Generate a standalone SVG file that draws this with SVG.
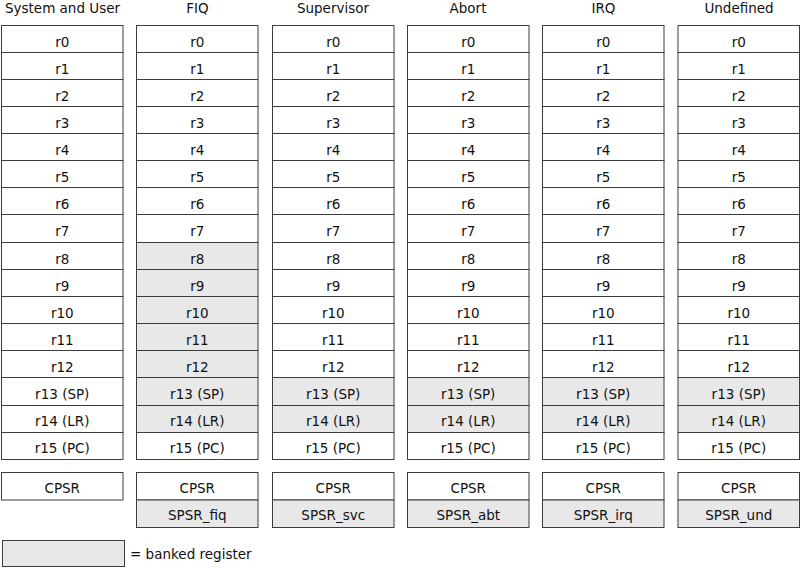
<svg xmlns="http://www.w3.org/2000/svg" width="801" height="568" viewBox="0 0 801 568">
<style>
.c{fill:#ffffff;stroke:#3c3c3c;stroke-width:1}
.b{fill:#e8e8e8;stroke:#3c3c3c;stroke-width:1}
text{font-family:"DejaVu Sans","Liberation Sans",Arial,sans-serif;font-size:13.5px;fill:#111;text-anchor:middle}
.l{text-anchor:start}
</style>
<rect width="801" height="568" fill="#ffffff"/>
<g id="headers">
<text x="62.5" y="13">System and User</text>
<text x="197.5" y="13">FIQ</text>
<text x="333" y="13">Supervisor</text>
<text x="468" y="13">Abort</text>
<text x="603.5" y="13">IRQ</text>
<text x="739" y="13">Undefined</text>
</g>
<g id="col-usr">
<g id="usr-r0"><rect class="c" x="1.5" y="25.5" width="121.5" height="27"/><text x="62.25" y="46.5">r0</text></g>
<g id="usr-r1"><rect class="c" x="1.5" y="52.5" width="121.5" height="27"/><text x="62.25" y="73.5">r1</text></g>
<g id="usr-r2"><rect class="c" x="1.5" y="79.5" width="121.5" height="27"/><text x="62.25" y="100.5">r2</text></g>
<g id="usr-r3"><rect class="c" x="1.5" y="106.5" width="121.5" height="27"/><text x="62.25" y="127.5">r3</text></g>
<g id="usr-r4"><rect class="c" x="1.5" y="133.5" width="121.5" height="27"/><text x="62.25" y="154.5">r4</text></g>
<g id="usr-r5"><rect class="c" x="1.5" y="160.5" width="121.5" height="27"/><text x="62.25" y="181.5">r5</text></g>
<g id="usr-r6"><rect class="c" x="1.5" y="187.5" width="121.5" height="27"/><text x="62.25" y="208.5">r6</text></g>
<g id="usr-r7"><rect class="c" x="1.5" y="214.5" width="121.5" height="28"/><text x="62.25" y="236">r7</text></g>
<g id="usr-r8"><rect class="c" x="1.5" y="242.5" width="121.5" height="27"/><text x="62.25" y="263.5">r8</text></g>
<g id="usr-r9"><rect class="c" x="1.5" y="269.5" width="121.5" height="27"/><text x="62.25" y="290.5">r9</text></g>
<g id="usr-r10"><rect class="c" x="1.5" y="296.5" width="121.5" height="27"/><text x="62.25" y="317.5">r10</text></g>
<g id="usr-r11"><rect class="c" x="1.5" y="323.5" width="121.5" height="27"/><text x="62.25" y="344.5">r11</text></g>
<g id="usr-r12"><rect class="c" x="1.5" y="350.5" width="121.5" height="27"/><text x="62.25" y="371.5">r12</text></g>
<g id="usr-r13"><rect class="c" x="1.5" y="377.5" width="121.5" height="28"/><text x="62.25" y="398.5">r13 (SP)</text></g>
<g id="usr-r14"><rect class="c" x="1.5" y="405.5" width="121.5" height="27"/><text x="62.25" y="426">r14 (LR)</text></g>
<g id="usr-r15"><rect class="c" x="1.5" y="432.5" width="121.5" height="27"/><text x="62.25" y="453">r15 (PC)</text></g>
<g id="usr-cpsr"><rect class="c" x="1.5" y="472.5" width="121.5" height="27.5"/><text x="62.25" y="492.5">CPSR</text></g>
</g>
<g id="col-fiq">
<g id="fiq-r0"><rect class="c" x="136.5" y="25.5" width="121.5" height="27"/><text x="197.25" y="46.5">r0</text></g>
<g id="fiq-r1"><rect class="c" x="136.5" y="52.5" width="121.5" height="27"/><text x="197.25" y="73.5">r1</text></g>
<g id="fiq-r2"><rect class="c" x="136.5" y="79.5" width="121.5" height="27"/><text x="197.25" y="100.5">r2</text></g>
<g id="fiq-r3"><rect class="c" x="136.5" y="106.5" width="121.5" height="27"/><text x="197.25" y="127.5">r3</text></g>
<g id="fiq-r4"><rect class="c" x="136.5" y="133.5" width="121.5" height="27"/><text x="197.25" y="154.5">r4</text></g>
<g id="fiq-r5"><rect class="c" x="136.5" y="160.5" width="121.5" height="27"/><text x="197.25" y="181.5">r5</text></g>
<g id="fiq-r6"><rect class="c" x="136.5" y="187.5" width="121.5" height="27"/><text x="197.25" y="208.5">r6</text></g>
<g id="fiq-r7"><rect class="c" x="136.5" y="214.5" width="121.5" height="28"/><text x="197.25" y="236">r7</text></g>
<g id="fiq-r8"><rect class="b" x="136.5" y="242.5" width="121.5" height="27"/><text x="197.25" y="263.5">r8</text></g>
<g id="fiq-r9"><rect class="b" x="136.5" y="269.5" width="121.5" height="27"/><text x="197.25" y="290.5">r9</text></g>
<g id="fiq-r10"><rect class="b" x="136.5" y="296.5" width="121.5" height="27"/><text x="197.25" y="317.5">r10</text></g>
<g id="fiq-r11"><rect class="b" x="136.5" y="323.5" width="121.5" height="27"/><text x="197.25" y="344.5">r11</text></g>
<g id="fiq-r12"><rect class="b" x="136.5" y="350.5" width="121.5" height="27"/><text x="197.25" y="371.5">r12</text></g>
<g id="fiq-r13"><rect class="b" x="136.5" y="377.5" width="121.5" height="28"/><text x="197.25" y="398.5">r13 (SP)</text></g>
<g id="fiq-r14"><rect class="b" x="136.5" y="405.5" width="121.5" height="27"/><text x="197.25" y="426">r14 (LR)</text></g>
<g id="fiq-r15"><rect class="c" x="136.5" y="432.5" width="121.5" height="27"/><text x="197.25" y="453">r15 (PC)</text></g>
<g id="fiq-cpsr"><rect class="c" x="136.5" y="472.5" width="121.5" height="27.5"/><text x="197.25" y="492.5">CPSR</text></g>
<g id="fiq-spsr"><rect class="b" x="136.5" y="500" width="121.5" height="27.5"/><text x="197.25" y="520">SPSR_fiq</text></g>
</g>
<g id="col-svc">
<g id="svc-r0"><rect class="c" x="272.5" y="25.5" width="121.5" height="27"/><text x="333.25" y="46.5">r0</text></g>
<g id="svc-r1"><rect class="c" x="272.5" y="52.5" width="121.5" height="27"/><text x="333.25" y="73.5">r1</text></g>
<g id="svc-r2"><rect class="c" x="272.5" y="79.5" width="121.5" height="27"/><text x="333.25" y="100.5">r2</text></g>
<g id="svc-r3"><rect class="c" x="272.5" y="106.5" width="121.5" height="27"/><text x="333.25" y="127.5">r3</text></g>
<g id="svc-r4"><rect class="c" x="272.5" y="133.5" width="121.5" height="27"/><text x="333.25" y="154.5">r4</text></g>
<g id="svc-r5"><rect class="c" x="272.5" y="160.5" width="121.5" height="27"/><text x="333.25" y="181.5">r5</text></g>
<g id="svc-r6"><rect class="c" x="272.5" y="187.5" width="121.5" height="27"/><text x="333.25" y="208.5">r6</text></g>
<g id="svc-r7"><rect class="c" x="272.5" y="214.5" width="121.5" height="28"/><text x="333.25" y="236">r7</text></g>
<g id="svc-r8"><rect class="c" x="272.5" y="242.5" width="121.5" height="27"/><text x="333.25" y="263.5">r8</text></g>
<g id="svc-r9"><rect class="c" x="272.5" y="269.5" width="121.5" height="27"/><text x="333.25" y="290.5">r9</text></g>
<g id="svc-r10"><rect class="c" x="272.5" y="296.5" width="121.5" height="27"/><text x="333.25" y="317.5">r10</text></g>
<g id="svc-r11"><rect class="c" x="272.5" y="323.5" width="121.5" height="27"/><text x="333.25" y="344.5">r11</text></g>
<g id="svc-r12"><rect class="c" x="272.5" y="350.5" width="121.5" height="27"/><text x="333.25" y="371.5">r12</text></g>
<g id="svc-r13"><rect class="b" x="272.5" y="377.5" width="121.5" height="28"/><text x="333.25" y="398.5">r13 (SP)</text></g>
<g id="svc-r14"><rect class="b" x="272.5" y="405.5" width="121.5" height="27"/><text x="333.25" y="426">r14 (LR)</text></g>
<g id="svc-r15"><rect class="c" x="272.5" y="432.5" width="121.5" height="27"/><text x="333.25" y="453">r15 (PC)</text></g>
<g id="svc-cpsr"><rect class="c" x="272.5" y="472.5" width="121.5" height="27.5"/><text x="333.25" y="492.5">CPSR</text></g>
<g id="svc-spsr"><rect class="b" x="272.5" y="500" width="121.5" height="27.5"/><text x="333.25" y="520">SPSR_svc</text></g>
</g>
<g id="col-abt">
<g id="abt-r0"><rect class="c" x="407.5" y="25.5" width="121.5" height="27"/><text x="468.25" y="46.5">r0</text></g>
<g id="abt-r1"><rect class="c" x="407.5" y="52.5" width="121.5" height="27"/><text x="468.25" y="73.5">r1</text></g>
<g id="abt-r2"><rect class="c" x="407.5" y="79.5" width="121.5" height="27"/><text x="468.25" y="100.5">r2</text></g>
<g id="abt-r3"><rect class="c" x="407.5" y="106.5" width="121.5" height="27"/><text x="468.25" y="127.5">r3</text></g>
<g id="abt-r4"><rect class="c" x="407.5" y="133.5" width="121.5" height="27"/><text x="468.25" y="154.5">r4</text></g>
<g id="abt-r5"><rect class="c" x="407.5" y="160.5" width="121.5" height="27"/><text x="468.25" y="181.5">r5</text></g>
<g id="abt-r6"><rect class="c" x="407.5" y="187.5" width="121.5" height="27"/><text x="468.25" y="208.5">r6</text></g>
<g id="abt-r7"><rect class="c" x="407.5" y="214.5" width="121.5" height="28"/><text x="468.25" y="236">r7</text></g>
<g id="abt-r8"><rect class="c" x="407.5" y="242.5" width="121.5" height="27"/><text x="468.25" y="263.5">r8</text></g>
<g id="abt-r9"><rect class="c" x="407.5" y="269.5" width="121.5" height="27"/><text x="468.25" y="290.5">r9</text></g>
<g id="abt-r10"><rect class="c" x="407.5" y="296.5" width="121.5" height="27"/><text x="468.25" y="317.5">r10</text></g>
<g id="abt-r11"><rect class="c" x="407.5" y="323.5" width="121.5" height="27"/><text x="468.25" y="344.5">r11</text></g>
<g id="abt-r12"><rect class="c" x="407.5" y="350.5" width="121.5" height="27"/><text x="468.25" y="371.5">r12</text></g>
<g id="abt-r13"><rect class="b" x="407.5" y="377.5" width="121.5" height="28"/><text x="468.25" y="398.5">r13 (SP)</text></g>
<g id="abt-r14"><rect class="b" x="407.5" y="405.5" width="121.5" height="27"/><text x="468.25" y="426">r14 (LR)</text></g>
<g id="abt-r15"><rect class="c" x="407.5" y="432.5" width="121.5" height="27"/><text x="468.25" y="453">r15 (PC)</text></g>
<g id="abt-cpsr"><rect class="c" x="407.5" y="472.5" width="121.5" height="27.5"/><text x="468.25" y="492.5">CPSR</text></g>
<g id="abt-spsr"><rect class="b" x="407.5" y="500" width="121.5" height="27.5"/><text x="468.25" y="520">SPSR_abt</text></g>
</g>
<g id="col-irq">
<g id="irq-r0"><rect class="c" x="542.5" y="25.5" width="121.5" height="27"/><text x="603.25" y="46.5">r0</text></g>
<g id="irq-r1"><rect class="c" x="542.5" y="52.5" width="121.5" height="27"/><text x="603.25" y="73.5">r1</text></g>
<g id="irq-r2"><rect class="c" x="542.5" y="79.5" width="121.5" height="27"/><text x="603.25" y="100.5">r2</text></g>
<g id="irq-r3"><rect class="c" x="542.5" y="106.5" width="121.5" height="27"/><text x="603.25" y="127.5">r3</text></g>
<g id="irq-r4"><rect class="c" x="542.5" y="133.5" width="121.5" height="27"/><text x="603.25" y="154.5">r4</text></g>
<g id="irq-r5"><rect class="c" x="542.5" y="160.5" width="121.5" height="27"/><text x="603.25" y="181.5">r5</text></g>
<g id="irq-r6"><rect class="c" x="542.5" y="187.5" width="121.5" height="27"/><text x="603.25" y="208.5">r6</text></g>
<g id="irq-r7"><rect class="c" x="542.5" y="214.5" width="121.5" height="28"/><text x="603.25" y="236">r7</text></g>
<g id="irq-r8"><rect class="c" x="542.5" y="242.5" width="121.5" height="27"/><text x="603.25" y="263.5">r8</text></g>
<g id="irq-r9"><rect class="c" x="542.5" y="269.5" width="121.5" height="27"/><text x="603.25" y="290.5">r9</text></g>
<g id="irq-r10"><rect class="c" x="542.5" y="296.5" width="121.5" height="27"/><text x="603.25" y="317.5">r10</text></g>
<g id="irq-r11"><rect class="c" x="542.5" y="323.5" width="121.5" height="27"/><text x="603.25" y="344.5">r11</text></g>
<g id="irq-r12"><rect class="c" x="542.5" y="350.5" width="121.5" height="27"/><text x="603.25" y="371.5">r12</text></g>
<g id="irq-r13"><rect class="b" x="542.5" y="377.5" width="121.5" height="28"/><text x="603.25" y="398.5">r13 (SP)</text></g>
<g id="irq-r14"><rect class="b" x="542.5" y="405.5" width="121.5" height="27"/><text x="603.25" y="426">r14 (LR)</text></g>
<g id="irq-r15"><rect class="c" x="542.5" y="432.5" width="121.5" height="27"/><text x="603.25" y="453">r15 (PC)</text></g>
<g id="irq-cpsr"><rect class="c" x="542.5" y="472.5" width="121.5" height="27.5"/><text x="603.25" y="492.5">CPSR</text></g>
<g id="irq-spsr"><rect class="b" x="542.5" y="500" width="121.5" height="27.5"/><text x="603.25" y="520">SPSR_irq</text></g>
</g>
<g id="col-und">
<g id="und-r0"><rect class="c" x="678" y="25.5" width="121.5" height="27"/><text x="738.75" y="46.5">r0</text></g>
<g id="und-r1"><rect class="c" x="678" y="52.5" width="121.5" height="27"/><text x="738.75" y="73.5">r1</text></g>
<g id="und-r2"><rect class="c" x="678" y="79.5" width="121.5" height="27"/><text x="738.75" y="100.5">r2</text></g>
<g id="und-r3"><rect class="c" x="678" y="106.5" width="121.5" height="27"/><text x="738.75" y="127.5">r3</text></g>
<g id="und-r4"><rect class="c" x="678" y="133.5" width="121.5" height="27"/><text x="738.75" y="154.5">r4</text></g>
<g id="und-r5"><rect class="c" x="678" y="160.5" width="121.5" height="27"/><text x="738.75" y="181.5">r5</text></g>
<g id="und-r6"><rect class="c" x="678" y="187.5" width="121.5" height="27"/><text x="738.75" y="208.5">r6</text></g>
<g id="und-r7"><rect class="c" x="678" y="214.5" width="121.5" height="28"/><text x="738.75" y="236">r7</text></g>
<g id="und-r8"><rect class="c" x="678" y="242.5" width="121.5" height="27"/><text x="738.75" y="263.5">r8</text></g>
<g id="und-r9"><rect class="c" x="678" y="269.5" width="121.5" height="27"/><text x="738.75" y="290.5">r9</text></g>
<g id="und-r10"><rect class="c" x="678" y="296.5" width="121.5" height="27"/><text x="738.75" y="317.5">r10</text></g>
<g id="und-r11"><rect class="c" x="678" y="323.5" width="121.5" height="27"/><text x="738.75" y="344.5">r11</text></g>
<g id="und-r12"><rect class="c" x="678" y="350.5" width="121.5" height="27"/><text x="738.75" y="371.5">r12</text></g>
<g id="und-r13"><rect class="b" x="678" y="377.5" width="121.5" height="28"/><text x="738.75" y="398.5">r13 (SP)</text></g>
<g id="und-r14"><rect class="b" x="678" y="405.5" width="121.5" height="27"/><text x="738.75" y="426">r14 (LR)</text></g>
<g id="und-r15"><rect class="c" x="678" y="432.5" width="121.5" height="27"/><text x="738.75" y="453">r15 (PC)</text></g>
<g id="und-cpsr"><rect class="c" x="678" y="472.5" width="121.5" height="27.5"/><text x="738.75" y="492.5">CPSR</text></g>
<g id="und-spsr"><rect class="b" x="678" y="500" width="121.5" height="27.5"/><text x="738.75" y="520">SPSR_und</text></g>
</g>
<g id="legend">
<rect class="b" x="2.5" y="540.5" width="122" height="26"/>
<text class="l" x="130" y="559">= banked register</text>
</g>
<g id="connectors"></g>
</svg>
